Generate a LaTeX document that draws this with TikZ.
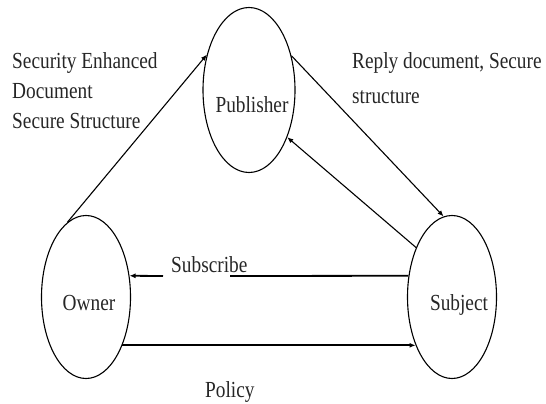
\documentclass[tikz,border=0pt]{standalone}
\usepackage{fontspec}
\setmainfont{Liberation Serif}[FakeStretch=0.84]
\usetikzlibrary{arrows.meta,shapes.geometric}
\definecolor{pInk}{gray}{0.15}
\tikzset{
    oval/.style={ellipse, draw, line width=1.1pt, inner sep=0pt, minimum width=89pt, minimum height=163pt},
    lbl/.style={inner sep=0pt, text=pInk, font=\fontsize{23}{30}\selectfont},
    link/.style={-{Latex[length=6pt,width=5pt]}, line width=1.1pt},
    bar/.style={-{Latex[length=6pt,width=5pt]}, line width=1.8pt}
}

\begin{document}
\begin{tikzpicture}[x=1pt,y=-1pt]
\useasboundingbox (0,0) rectangle (546,404);
% the three parties
\node[oval,minimum width=92pt,minimum height=165pt] (pub) at (249, 90) {};
\node[oval] (own) at ( 86,297) {};
\node[oval] (sub) at (452,297) {};
\node[lbl,anchor=base] (publbl) at (252,112) {Publisher};
\node[lbl,anchor=base] (ownlbl) at ( 89,310) {Owner};
\node[lbl,anchor=base] (sublbl) at (459,310) {Subject};
% what goes between them
\node[lbl,anchor=base west,align=left] (doclbl) at (12,128) {Security Enhanced\\Document\\Secure Structure};
\node[lbl,anchor=base west,align=left,font=\fontsize{23}{35}\selectfont] (replbl) at (352,103) {Reply document, Secure\\structure};
\node[lbl,anchor=base west] (subslbl) at (171,272) {Subscribe};
\node[lbl,anchor=base west] (pollbl) at (205,397) {Policy};
\coordinate (subsA) at (230,276);
\coordinate (subsB) at (163,276);
\draw[link] (own.104) -- (pub.140);
\draw[link] (pub.39) -- (sub.96);
\draw[link] (sub.126) -- (pub.-51);
\draw[line width=1.8pt] (sub.154) -- (subsA);
\draw[bar] (subsB) -- (own.26);
\draw[bar] (own.-53) -- (sub.233);
\end{tikzpicture}
\end{document}
